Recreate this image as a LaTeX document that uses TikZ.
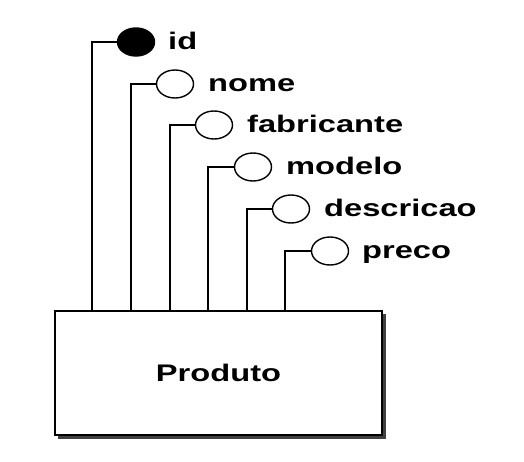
\documentclass[tikz,border=0pt]{standalone}
\usepackage{fontspec}
\setmainfont{Liberation Sans}
\usetikzlibrary{shapes.geometric}
\begin{document}
\begin{tikzpicture}[x=1pt,y=-1pt,
  attr/.style={draw=black,ellipse,line width=1.4pt,minimum width=37pt,minimum height=28pt,inner sep=0pt,fill=white},
  keyattr/.style={attr,fill=black},
  lbl/.style={anchor=base west,inner sep=0pt,font=\fontsize{24}{28}\selectfont\bfseries},
  conn/.style={draw=black,line width=1.6pt},
  entity/.style={draw=black,line width=1.6pt,fill=white,minimum width=327pt,minimum height=124pt,inner sep=0pt,font=\fontsize{24}{28}\selectfont\bfseries}]
\useasboundingbox (0,0) rectangle (524,461);
% shadow and entity box
\fill[black!75] (58,314) rectangle (386,439);
\node[entity] (prod) at (218.5,373) {\scalebox{1.36}[1]{Produto}};
% attachment points on top of the box
\coordinate (t1) at (92,311);
\coordinate (t2) at (131,311);
\coordinate (t3) at (170,311);
\coordinate (t4) at (208,311);
\coordinate (t5) at (247,311);
\coordinate (t6) at (285,311);
% attribute ellipses
\node[keyattr] (eid) at (136,42) {};
\node[attr] (enome) at (175,84) {};
\node[attr] (efab) at (214,125) {};
\node[attr] (emod) at (253,167) {};
\node[attr] (edesc) at (291,209) {};
\node[attr] (epreco) at (330,251) {};
% connectors
\draw[conn] (eid.west) -| (t1);
\draw[conn] (enome.west) -| (t2);
\draw[conn] (efab.west) -| (t3);
\draw[conn] (emod.west) -| (t4);
\draw[conn] (edesc.west) -| (t5);
\draw[conn] (epreco.west) -| (t6);
% labels
\node[lbl] (lid) at (168,49) {\scalebox{1.36}[1]{id}};
\node[lbl] (lnome) at (208,91) {\scalebox{1.36}[1]{nome}};
\node[lbl] (lfab) at (247,132) {\scalebox{1.36}[1]{fabricante}};
\node[lbl] (lmod) at (286,174) {\scalebox{1.36}[1]{modelo}};
\node[lbl] (ldesc) at (324,216) {\scalebox{1.36}[1]{descricao}};
\node[lbl] (lpreco) at (362,258) {\scalebox{1.36}[1]{preco}};
\end{tikzpicture}
\end{document}
